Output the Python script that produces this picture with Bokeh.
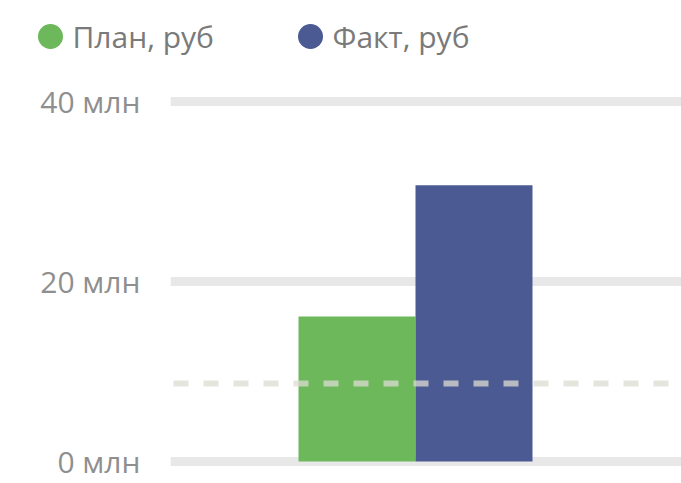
from bokeh.plotting import figure
from bokeh.layouts import column
from bokeh.models import (FactorRange, Range1d, FixedTicker, PrintfTickFormatter,
                          Span, ColumnDataSource)
from bokeh.transform import dodge
from bokeh.core.properties import value
from bokeh.embed import file_html
from bokeh.resources import INLINE

# ---- data ----
series = ["План, руб", "Факт, руб"]
values = [16.1, 30.7]          # млн руб
colors = ["#6cb85b", "#4b5a93"]
target = 8.67                  # dashed reference level, млн
y_ticks = [0, 20, 40]

FONT = "Open Sans"

# ---- legend strip (one marker + label per series) ----
LEG_Y = 36
lf = figure(width=681, height=72,
            x_range=FactorRange(factors=series, range_padding=0.3096),
            y_range=Range1d(72, 0),
            output_backend="svg", toolbar_location=None,
            min_border_left=0, min_border_right=0, min_border_top=0,
            min_border_bottom=0)
lf.axis.visible = False
lf.grid.visible = False
lf.outline_line_color = None
leg_src = ColumnDataSource(dict(series=series, color=colors,
                                y=[LEG_Y] * len(series)))
lf.scatter(x=dodge("series", -0.6173, range=lf.x_range), y="y", source=leg_src,
           marker="circle", size=25, fill_color="color", line_color=None)
lf.text(x=dodge("series", -0.5327, range=lf.x_range), y="y", text="series",
        source=leg_src, text_font=value(FONT), text_font_size="30px",
        text_color="#7a7a7a", text_align="left", text_baseline="middle")

# ---- chart ----
p = figure(width=681, height=411,
           x_range=FactorRange(factors=series, range_padding=1.184),
           y_range=Range1d(-1.56, 42.56),
           output_backend="svg", toolbar_location=None,
           min_border_left=170, min_border_right=0,
           min_border_top=6, min_border_bottom=8)
p.outline_line_color = None

for fig in (lf, p):
    if "frame_align" in fig.properties():
        fig.frame_align = False

p.xaxis.visible = False
p.xgrid.visible = False
yax = p.yaxis[0]
yax.ticker = FixedTicker(ticks=y_ticks)
yax.formatter = PrintfTickFormatter(format="%d млн")
yax.axis_line_color = None
yax.major_tick_line_color = None
yax.minor_tick_line_color = None
yax.major_tick_out = 0
yax.major_tick_in = 0
yax.major_label_standoff = 30
yax.major_label_text_font = FONT
yax.major_label_text_font_size = "30px"
yax.major_label_text_color = "#8f8f8f"

p.ygrid.ticker = FixedTicker(ticks=y_ticks)
p.ygrid.grid_line_color = "#e8e8e8"
p.ygrid.grid_line_width = 9

src = ColumnDataSource(dict(series=series, values=values, color=colors))
p.vbar(x=dodge("series", -0.0897, range=p.x_range), top="values", width=1.0,
       bottom=0, source=src, fill_color="color", line_color=None)

p.add_layout(Span(location=target, dimension="width", line_color="#dcdcd2",
                  line_alpha=0.75, line_width=6, line_dash="15 15",
                  line_dash_offset=-3))

layout = column(lf, p, spacing=0)
open("out.html", "w").write(file_html(layout, INLINE))
